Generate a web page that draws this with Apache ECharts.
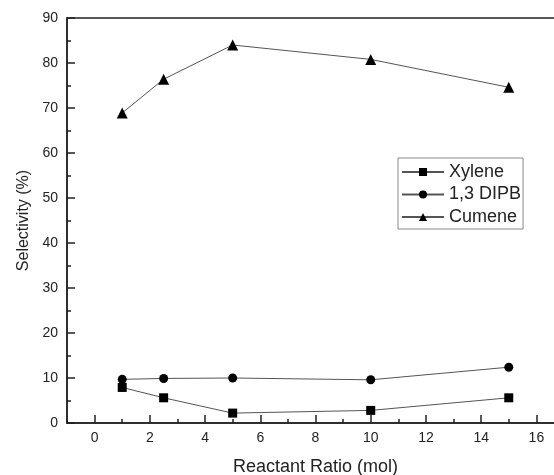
<!DOCTYPE html>
<html>
<head>
<meta charset="utf-8">
<script src="https://cdn.jsdelivr.net/npm/echarts@6/dist/echarts.min.js"></script>
<style>
  html, body { margin: 0; padding: 0; background: #fff; }
  #chart { width: 554px; height: 475px; }
</style>
</head>
<body>
<div id="chart"></div>
<script>
// Reactant ratio (mol) at which selectivity was measured
const ratios = [1, 2.5, 5, 10, 15];

// Selectivity (%) per product
const xylene = [7.9, 5.6, 2.2, 2.8, 5.6];
const dipb = [9.7, 9.9, 10.0, 9.6, 12.4];
const cumene = [68.9, 76.4, 84.0, 80.8, 74.6];

// Axis ticks
const xMajorTicks = [0, 2, 4, 6, 8, 10, 12, 14, 16];
const xMinorTicks = [-1, 1, 3, 5, 7, 9, 11, 13, 15];

const FONT = '"Liberation Sans", Arial, sans-serif';
const AXIS_COLOR = '#222';
const TEXT_COLOR = '#222';

function pairs(ys) {
  return ratios.map((x, i) => [x, ys[i]]);
}

function lineSeries(name, ys, symbol, size) {
  return {
    name: name,
    type: 'line',
    data: pairs(ys),
    symbol: symbol,
    symbolSize: size,
    showSymbol: true,
    itemStyle: { color: '#000' },
    lineStyle: { color: '#555', width: 1 },
    emphasis: { disabled: true },
    animation: false,
    z: 3
  };
}

const chart = echarts.init(document.getElementById('chart'), null, { renderer: 'canvas' });

chart.setOption({
  backgroundColor: '#fff',
  animation: false,
  grid: {
    left: 67,
    top: 18,
    width: 497,
    height: 405,
    outerBoundsMode: 'none',
    show: true,
    borderColor: AXIS_COLOR,
    borderWidth: 1.5,
    backgroundColor: 'transparent'
  },
  legend: {
    left: 398,
    top: 158,
    orient: 'vertical',
    data: ['Xylene', '1,3 DIPB', 'Cumene'],
    itemWidth: 42,
    itemHeight: 10,
    itemGap: 4.5,
    padding: [5, 2, 3, 3],
    backgroundColor: '#fff',
    borderColor: '#888',
    borderWidth: 1,
    borderRadius: 0,
    textStyle: { fontFamily: FONT, fontSize: 18, color: TEXT_COLOR },
    selectedMode: false
  },
  xAxis: [
    {
      type: 'value',
      min: -1,
      max: 17,
      position: 'bottom',
      name: 'Reactant Ratio (mol)',
      nameLocation: 'middle',
      nameGap: 35,
      nameTextStyle: { fontFamily: FONT, fontSize: 18, color: TEXT_COLOR },
      axisLine: { show: true, onZero: false, lineStyle: { color: AXIS_COLOR, width: 1.5 } },
      axisTick: {
        show: true,
        inside: true,
        length: 8,
        customValues: xMajorTicks,
        lineStyle: { color: AXIS_COLOR, width: 1.5 }
      },
      axisLabel: {
        show: true,
        customValues: xMajorTicks,
        margin: 8,
        fontFamily: FONT,
        fontSize: 14,
        color: TEXT_COLOR
      },
      splitLine: { show: false }
    },
    {
      // Short ticks at the odd ratios
      type: 'value',
      min: -1,
      max: 17,
      position: 'bottom',
      axisLine: { show: false, onZero: false },
      axisTick: {
        show: true,
        inside: true,
        length: 4,
        customValues: xMinorTicks,
        lineStyle: { color: AXIS_COLOR, width: 1.5 }
      },
      axisLabel: { show: false },
      splitLine: { show: false }
    }
  ],
  yAxis: {
    type: 'value',
    min: 0,
    max: 90,
    interval: 10,
    name: 'Selectivity (%)',
    nameLocation: 'middle',
    nameGap: 35,
    nameTextStyle: { fontFamily: FONT, fontSize: 16, color: TEXT_COLOR },
    axisLine: { show: true, onZero: false, lineStyle: { color: AXIS_COLOR, width: 1.5 } },
    axisTick: { show: true, inside: true, length: 8, lineStyle: { color: AXIS_COLOR, width: 1.5 } },
    minorTick: { show: true, splitNumber: 2, length: 4, lineStyle: { color: AXIS_COLOR, width: 1.5 } },
    axisLabel: { margin: 9, fontFamily: FONT, fontSize: 14, color: TEXT_COLOR },
    splitLine: { show: false },
    minorSplitLine: { show: false }
  },
  series: [
    lineSeries('Xylene', xylene, 'rect', 9),
    lineSeries('1,3 DIPB', dipb, 'circle', 9),
    lineSeries('Cumene', cumene, 'triangle', 11)
  ]
});
</script>
</body>
</html>
